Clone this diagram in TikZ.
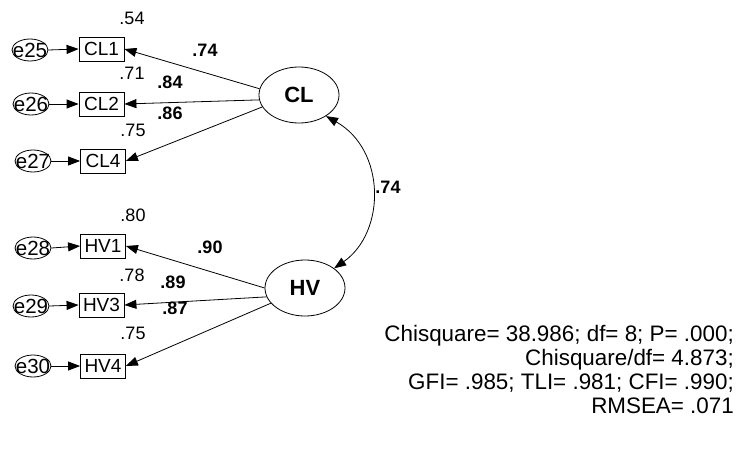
\documentclass[tikz,border=0pt]{standalone}
\usepackage{fontspec}
\setmainfont{Liberation Sans}
\usetikzlibrary{arrows.meta,shapes.geometric}
\begin{document}
\begin{tikzpicture}[x=1pt,y=-1pt,
  lbl/.style={font=\fontsize{18}{20}\selectfont, inner sep=0pt},
  blbl/.style={font=\bfseries\fontsize{18}{20}\selectfont, inner sep=0pt},
  obs/.style={draw, rectangle, line width=0.8pt, minimum width=45pt, minimum height=24pt, inner sep=1pt, font=\fontsize{19}{20}\selectfont},
  err/.style={draw, ellipse, line width=0.8pt, minimum width=36pt, minimum height=22pt, inner sep=0pt, font=\fontsize{20.5}{22}\selectfont},
  lat/.style={draw, ellipse, line width=0.8pt, minimum width=80pt, minimum height=56pt, inner sep=0pt, font=\bfseries\fontsize{22}{24}\selectfont},
  arr/.style={-{Triangle[length=12pt,width=9pt]}, line width=0.8pt},
  stat/.style={font=\fontsize{22.4}{24}\selectfont, inner sep=0pt, anchor=base east}]
\useasboundingbox (0,0) rectangle (746,460);
% error terms
\node[err] (e25) at (30,50) {\makebox[0pt]{e25}};
\node[err] (e26) at (31,104) {\makebox[0pt]{e26}};
\node[err] (e27) at (33,161) {\makebox[0pt]{e27}};
\node[err] (e28) at (33,248) {\makebox[0pt]{e28}};
\node[err] (e29) at (31,306) {\makebox[0pt]{e29}};
\node[err] (e30) at (33,366) {\makebox[0pt]{e30}};
% observed
\node[obs] (CL1) at (101.5,49) {CL1};
\node[obs] (CL2) at (101.5,104) {CL2};
\node[obs] (CL4) at (103,161) {CL4};
\node[obs] (HV1) at (103,246) {HV1};
\node[obs] (HV3) at (101.5,305) {HV3};
\node[obs] (HV4) at (103,366) {HV4};
% latent
\node[lat] (CL) at (299,95) {CL};
\node[lat] (HV) at (305,288) {HV};
% error arrows
\draw[arr] (e25.east) -- (CL1.west);
\draw[arr] (e26.east) -- (CL2.west);
\draw[arr] (e27.east) -- (CL4.west);
\draw[arr] (e28.east) -- (HV1.west);
\draw[arr] (e29.east) -- (HV3.west);
\draw[arr] (e30.east) -- (HV4.west);
% loadings
\draw[arr] (CL.171) -- (CL1.east);
\draw[arr] (CL.187) -- (CL2.east);
\draw[arr] (CL.198) -- (CL4.east);
\draw[arr] (HV.180) -- (HV1.east);
\draw[arr] (HV.193) -- (HV3.east);
\draw[arr] (HV.204) -- (HV4.east);
% covariance
\draw[{Triangle[length=12pt,width=9pt]}-{Triangle[length=12pt,width=9pt]}, line width=0.8pt]
  (CL.-38) .. controls (386,150) and (386,232) .. (HV.34);
% labels
\node[lbl] (r1) at (132,18) {.54};
\node[lbl] (r2) at (132,73) {.71};
\node[lbl] (r4) at (133,130) {.75};
\node[lbl] (r5) at (133,215) {.80};
\node[lbl] (r6) at (132,275) {.78};
\node[lbl] (r7) at (133,333) {.75};
\node[blbl] (l1) at (205,50) {.74};
\node[blbl] (l2) at (170,82) {.84};
\node[blbl] (l3) at (170,113) {.86};
\node[blbl] (l4) at (210,247) {.90};
\node[blbl] (l5) at (173,282) {.89};
\node[blbl] (l6) at (175,308) {.87};
\node[blbl] (cov) at (388,187) {.74};
% fit statistics
\node[stat] (s1) at (734,341) {Chisquare= 38.986; df= 8; P= .000;};
\node[stat] (s2) at (734,365) {Chisquare/df= 4.873;};
\node[stat] (s3) at (734,389) {GFI= .985; TLI= .981; CFI= .990;};
\node[stat] (s4) at (734,413) {RMSEA= .071};
\end{tikzpicture}
\end{document}
